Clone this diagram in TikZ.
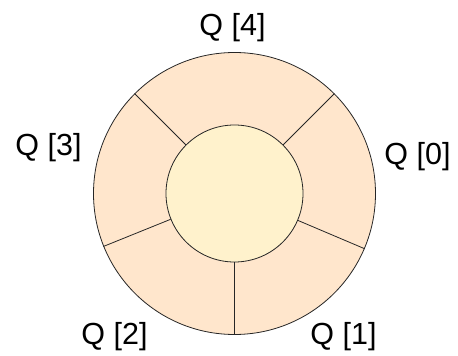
\documentclass[tikz,border=0pt]{standalone}
\usepackage{fontspec}
\setmainfont{Liberation Sans}
\usetikzlibrary{positioning}
\definecolor{ringfill}{HTML}{FFE6CC}
\definecolor{hubfill}{HTML}{FFF2CC}

\begin{document}
\begin{tikzpicture}[
  x=1pt, y=1pt,
  ring/.style={draw=black!85, circle, fill=ringfill, minimum size=282pt, inner sep=0pt, line width=0.8pt},
  hub/.style={draw=black!85, circle, fill=hubfill, minimum size=137pt, inner sep=0pt, line width=0.8pt},
  divider/.style={draw=black!85, line width=0.8pt},
  qlbl/.style={anchor=base, inner sep=0pt, font=\fontsize{30.5}{33}\selectfont},
]
\useasboundingbox (0,0) rectangle (458,356);

% --- Ring and hub ---
\node[ring] (ring) at (234.5,162.5) {};
\node[hub] (hub) at (ring.center) {};

% --- Slot dividers ---
\foreach \a in {45,135,202.5,270,337.5}
  \draw[divider] (hub.\a) -- (ring.\a);

% --- Slot labels ---
\node[qlbl] (q0) at (417.5,191) {Q [0]};
\node[qlbl] (q1) at (343.5,11) {Q [1]};
\node[qlbl] (q2) at (114.5,11) {Q [2]};
\node[qlbl] (q3) at (48.5,200) {Q [3]};
\node[qlbl] (q4) at (232.5,320) {Q [4]};

\end{tikzpicture}
\end{document}
